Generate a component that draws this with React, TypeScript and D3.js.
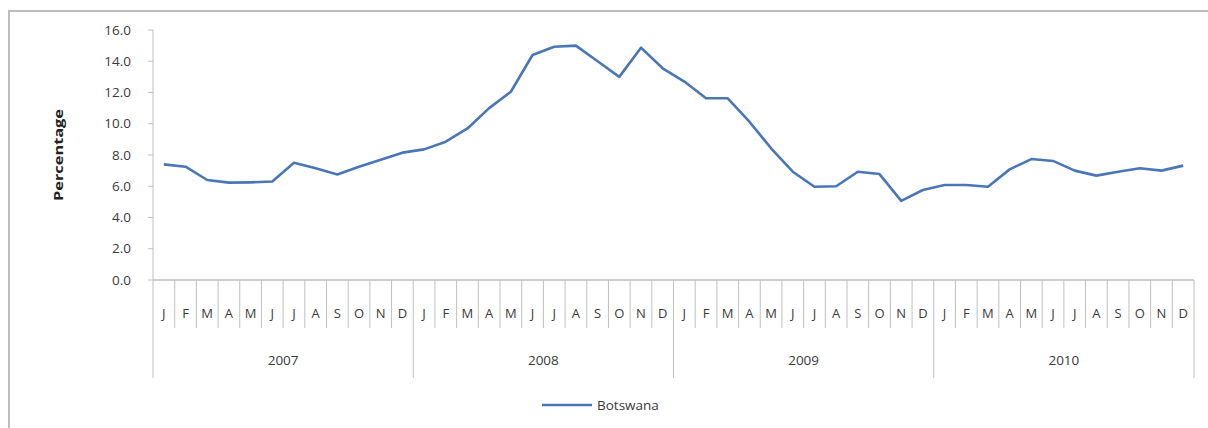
import React from "react";
import * as d3 from "d3";

const years = ["2007", "2008", "2009", "2010"];
const monthLetters = ["J", "F", "M", "A", "M", "J", "J", "A", "S", "O", "N", "D"];
const yTicks = [0, 2, 4, 6, 8, 10, 12, 14, 16];
const seriesName = "Botswana";
const botswana = [
  7.4, 7.25, 6.4, 6.23, 6.25, 6.3, 7.5, 7.15, 6.75, 7.25, 7.7, 8.15,
  8.36, 8.85, 9.7, 11.0, 12.05, 14.4, 14.93, 15.0, 14.0, 13.0, 14.87, 13.55,
  12.7, 11.63, 11.63, 10.13, 8.43, 6.93, 5.97, 6.0, 6.93, 6.78, 5.06, 5.76,
  6.08, 6.08, 5.97, 7.08, 7.74, 7.62, 7.0, 6.68, 6.93, 7.15, 7.0, 7.32,
];

const W = 1208;
const H = 428;
const left = 153;
const right = 1194;
const top = 30;
const bottom = 280;
const font = "'Open Sans', 'DejaVu Sans', sans-serif";
const textColor = "#3a3a3a";
const gridColor = "#bfbfbf";

export default function App() {
  const nMonths = years.length * 12;
  const x = d3.scaleLinear().domain([0, nMonths]).range([left, right]);
  const y = d3.scaleLinear().domain([0, 16]).range([bottom, top]);
  const line = d3
    .line<number>()
    .x((_, i) => x(i + 0.5))
    .y((d) => y(d));

  const monthIdx = d3.range(nMonths);

  return (
    <svg
      width={W}
      height={H}
      style={{ position: "absolute", left: 0, top: 0, background: "#fff" }}
    >
      <rect x={9} y={11} width={1210} height={425} fill="#fff" stroke="#bdbdbd" strokeWidth={2} />
      {/* y axis */}
      <line x1={left} x2={left} y1={top} y2={bottom} stroke={gridColor} strokeWidth={1} />
      {yTicks.map((t) => (
        <g key={t}>
          <line x1={left - 5} x2={left} y1={y(t)} y2={y(t)} stroke={gridColor} />
          <text
            x={131}
            y={y(t)}
            dy="0.35em"
            textAnchor="end"
            fontFamily={font}
            fontSize={13.5}
            fill={textColor}
          >
            {d3.format(".1f")(t)}
          </text>
        </g>
      ))}
      <text
        transform={`translate(63,${(top + bottom) / 2}) rotate(-90)`}
        textAnchor="middle"
        fontFamily={font}
        fontSize={13}
        fontWeight="bold"
        fill="#222"
        textLength={92}
        lengthAdjust="spacingAndGlyphs"
      >
        Percentage
      </text>
      {/* x axis */}
      <line x1={left} x2={right} y1={bottom} y2={bottom} stroke={gridColor} strokeWidth={1.5} />
      {d3.range(nMonths + 1).map((i) => (
        <line
          key={"t" + i}
          x1={x(i)}
          x2={x(i)}
          y1={bottom}
          y2={i % 12 === 0 ? 378 : 328}
          stroke={gridColor}
          strokeWidth={1}
        />
      ))}
      {monthIdx.map((i) => (
        <text
          key={"m" + i}
          x={x(i + 0.5)}
          y={313}
          dy="0.35em"
          textAnchor="middle"
          fontFamily={font}
          fontSize={13}
          fill={textColor}
        >
          {monthLetters[i % 12]}
        </text>
      ))}
      {years.map((yr, k) => (
        <text
          key={yr}
          x={x(k * 12 + 6)}
          y={360}
          dy="0.35em"
          textAnchor="middle"
          fontFamily={font}
          fontSize={13.5}
          fill={textColor}
        >
          {yr}
        </text>
      ))}
      <path d={line(botswana) || ""} fill="none" stroke="#4a76b8" strokeWidth={2.6} strokeLinejoin="round" />
      {/* legend */}
      <line x1={542} x2={592} y1={405} y2={405} stroke="#4a76b8" strokeWidth={2.6} />
      <text x={597} y={405} dy="0.35em" fontFamily={font} fontSize={13.5} fill={textColor}>
        {seriesName}
      </text>
    </svg>
  );
}
